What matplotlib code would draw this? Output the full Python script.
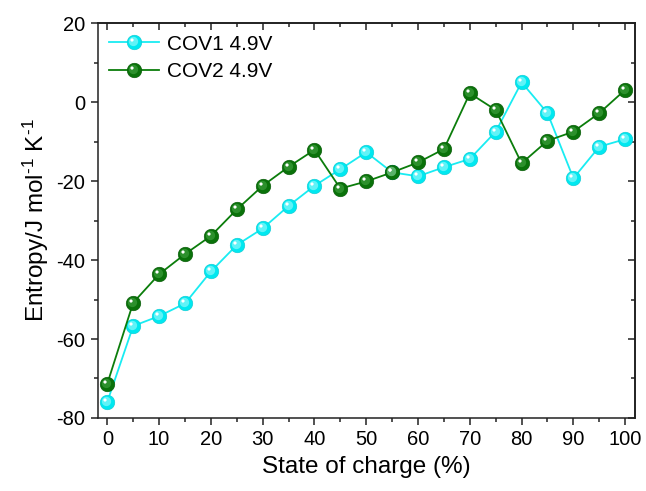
import matplotlib
matplotlib.use("Agg")
import matplotlib.pyplot as plt
import numpy as np
from matplotlib.path import Path
from matplotlib.ticker import MultipleLocator

plt.rcParams["font.family"] = ["Liberation Sans", "DejaVu Sans"]
plt.rcParams["mathtext.fontset"] = "custom"
plt.rcParams["mathtext.rm"] = "Liberation Sans"
plt.rcParams["mathtext.default"] = "regular"
plt.rcParams["axes.unicode_minus"] = False

# state of charge (%) and entropy (J mol-1 K-1)
soc = [0, 5, 10, 15, 20, 25, 30, 35, 40, 45, 50,
       55, 60, 65, 70, 75, 80, 85, 90, 95, 100]
cov1 = [-75.9, -56.7, -54.2, -51.0, -42.9, -36.2, -32.0, -26.3, -21.2, -17.0, -12.7,
        -17.8, -18.8, -16.5, -14.4, -7.5, 5.0, -2.8, -19.3, -11.3, -9.4]
cov2 = [-71.3, -50.8, -43.6, -38.5, -33.9, -27.2, -21.2, -16.4, -12.1, -21.9, -20.1,
        -17.8, -15.3, -11.9, 2.2, -2.0, -15.5, -9.8, -7.5, -2.8, 3.1]
labels = ["COV1 4.9V", "COV2 4.9V"]


def spot(cx, cy, r):
    # small off-centre disc, returned with the markersize factor that keeps
    # it in place on a unit ball after matplotlib rescales custom markers
    p = Path.circle((cx, cy), r)
    return p, np.max(np.abs(p.vertices)) / 0.5


MS = 10.5
glow, glow_k = spot(-0.07, 0.07, 0.32)
shine, shine_k = spot(-0.17, 0.17, 0.11)

fig = plt.figure(figsize=(6.46, 4.91), dpi=100)
ax = fig.add_axes([0.1517, 0.1487, 0.8313, 0.8043])

series = [
    (cov1, "#19ecf2", "#00e8f0", "#10c8d0", "#c0ffff"),
    (cov2, "#0b7d0b", "#0a720a", "#065806", "#4fae4f"),
]
handles = []
for (vals, lc, fc, ec, gc), lab in zip(series, labels):
    base, = ax.plot(soc, vals, color=lc, lw=1.3, marker="o", ms=MS,
                    mfc=fc, mec=ec, mew=0.4, zorder=3)
    g, = ax.plot(soc, vals, ls="none", marker=glow, ms=MS * glow_k,
                 mfc=gc, mec="none", alpha=0.5, zorder=4)
    s, = ax.plot(soc, vals, ls="none", marker=shine, ms=MS * shine_k,
                 mfc="white", mec="none", zorder=5)
    handles.append((base, g, s))

ax.set_xlim(-1.8, 101.9)
ax.set_ylim(-80, 20)
ax.xaxis.set_major_locator(MultipleLocator(10))
ax.xaxis.set_minor_locator(MultipleLocator(5))
ax.yaxis.set_major_locator(MultipleLocator(20))
ax.yaxis.set_minor_locator(MultipleLocator(10))

for sp in ax.spines.values():
    sp.set_linewidth(1.1)
    sp.set_color("#222222")
ax.tick_params(which="both", direction="out", top=False, right=False,
               labelsize=14.5, color="#222222", width=1.1)
ax.tick_params(which="major", length=5, pad=4)
ax.tick_params(which="minor", length=3)

# inward ticks on the top and right edges
sec_x = ax.secondary_xaxis("top")
sec_x.xaxis.set_major_locator(MultipleLocator(10))
sec_x.xaxis.set_minor_locator(MultipleLocator(5))
sec_x.tick_params(which="both", direction="in", labeltop=False,
                  color="#222222", width=1.1)
sec_x.tick_params(which="major", length=5)
sec_x.tick_params(which="minor", length=3)
sec_x.spines["top"].set_linewidth(1.1)
sec_y = ax.secondary_yaxis("right")
sec_y.yaxis.set_major_locator(MultipleLocator(20))
sec_y.yaxis.set_minor_locator(MultipleLocator(10))
sec_y.tick_params(which="both", direction="in", labelright=False,
                  color="#222222", width=1.1)
sec_y.tick_params(which="major", length=5)
sec_y.tick_params(which="minor", length=3)
sec_y.spines["right"].set_linewidth(1.1)

ax.set_xlabel("State of charge (%)", fontsize=17.5, labelpad=5)
ax.set_ylabel("Entropy/J mol$^{\\text{-}1}$ K$^{\\text{-}1}$", fontsize=17.5, labelpad=4)

ax.legend(handles, labels, loc="upper left", frameon=False, fontsize=15,
          handlelength=2.4, handletextpad=0.35, labelspacing=0.4,
          borderaxespad=0.3, borderpad=0.25, numpoints=1)

fig.savefig("out.png", dpi=100)
